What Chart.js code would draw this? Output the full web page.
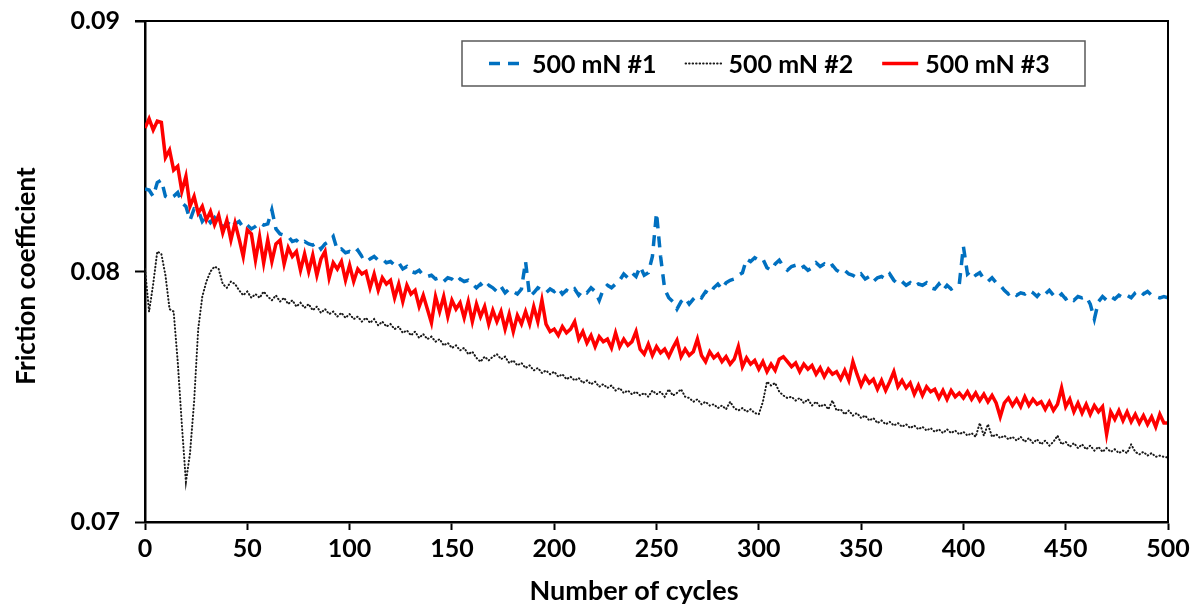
<!DOCTYPE html>
<html>
<head>
<meta charset="utf-8">
<title>Friction coefficient vs number of cycles</title>
<script src="https://cdn.jsdelivr.net/npm/chart.js@4.4.1/dist/chart.umd.min.js"></script>
<style>
  html, body { margin: 0; padding: 0; background: #fff; }
  #friction-chart { display: block; }
</style>
</head>
<body>
<canvas id="friction-chart" width="1201" height="613"></canvas>
<script>
// one sample every 2 cycles, 0..500
const cycleStep = 2;

const xTickValues = [0, 50, 100, 150, 200, 250, 300, 350, 400, 450, 500];
const yTickValues = [0.07, 0.08, 0.09];

const seriesLabels = ['500 mN #1', '500 mN #2', '500 mN #3'];
const xTitle = 'Number of cycles';
const yTitle = 'Friction coefficient';

const run1 = [
  0.08330, 0.08325, 0.08300, 0.08355, 0.08365, 0.08300, 0.08290, 0.08300, 0.08315, 0.08275,
  0.08260, 0.08205, 0.08250, 0.08245, 0.08200, 0.08220, 0.08195, 0.08215, 0.08190, 0.08180,
  0.08185, 0.08210, 0.08190, 0.08200, 0.08175, 0.08185, 0.08170, 0.08180, 0.08195, 0.08185,
  0.08190, 0.08246, 0.08170, 0.08150, 0.08145, 0.08140, 0.08120, 0.08125, 0.08110, 0.08120,
  0.08110, 0.08105, 0.08115, 0.08090, 0.08110, 0.08120, 0.08140, 0.08085, 0.08090, 0.08075,
  0.08080, 0.08070, 0.08085, 0.08060, 0.08070, 0.08050, 0.08060, 0.08045, 0.08050, 0.08035,
  0.08040, 0.08025, 0.08035, 0.08010, 0.08020, 0.08000, 0.07995, 0.08005, 0.07985, 0.07980,
  0.07985, 0.07970, 0.07975, 0.07960, 0.07975, 0.07970, 0.07955, 0.07970, 0.07960, 0.07965,
  0.07950, 0.07935, 0.07950, 0.07930, 0.07945, 0.07935, 0.07920, 0.07940, 0.07915, 0.07930,
  0.07920, 0.07910, 0.07930, 0.08040, 0.07900, 0.07915, 0.07935, 0.07925, 0.07915, 0.07930,
  0.07920, 0.07935, 0.07910, 0.07925, 0.07915, 0.07930, 0.07905, 0.07925, 0.07915, 0.07935,
  0.07920, 0.07885, 0.07930, 0.07945, 0.07935, 0.07950, 0.07965, 0.07990, 0.07975, 0.07995,
  0.07980, 0.08020, 0.07985, 0.07995, 0.08060, 0.08234, 0.08060, 0.07930, 0.07895, 0.07880,
  0.07850, 0.07880, 0.07895, 0.07870, 0.07890, 0.07905, 0.07895, 0.07920, 0.07910, 0.07935,
  0.07950, 0.07930, 0.07955, 0.07965, 0.07970, 0.07985, 0.07995, 0.08050, 0.08040, 0.08055,
  0.08045, 0.08050, 0.08015, 0.08005, 0.08030, 0.08045, 0.08020, 0.08005, 0.08020, 0.08025,
  0.08010, 0.08020, 0.08005, 0.08015, 0.08035, 0.08020, 0.08030, 0.08015, 0.08025, 0.08005,
  0.07995, 0.08005, 0.07990, 0.07985, 0.07975, 0.07990, 0.07970, 0.07980, 0.07960, 0.07975,
  0.07980, 0.07970, 0.07990, 0.07965, 0.07950, 0.07960, 0.07945, 0.07955, 0.07940, 0.07950,
  0.07945, 0.07955, 0.07935, 0.07930, 0.07950, 0.07925, 0.07945, 0.07930, 0.07940, 0.07950,
  0.08100, 0.07990, 0.08005, 0.07985, 0.07995, 0.07970, 0.07960, 0.07975, 0.07955, 0.07945,
  0.07925, 0.07910, 0.07920, 0.07905, 0.07915, 0.07910, 0.07925, 0.07915, 0.07900, 0.07920,
  0.07910, 0.07925, 0.07905, 0.07895, 0.07910, 0.07890, 0.07900, 0.07885, 0.07900, 0.07895,
  0.07900, 0.07870, 0.07810, 0.07880, 0.07900, 0.07885, 0.07900, 0.07890, 0.07905, 0.07895,
  0.07905, 0.07895, 0.07915, 0.07925, 0.07910, 0.07920, 0.07905, 0.07900, 0.07895, 0.07900,
  0.07895
];

const run2 = [
  0.08010, 0.07840, 0.07950, 0.08080, 0.08070, 0.07985, 0.07850, 0.07840, 0.07640, 0.07390,
  0.07160, 0.07275, 0.07480, 0.07770, 0.07900, 0.07960, 0.08000, 0.08020, 0.08010, 0.07950,
  0.07935, 0.07960, 0.07950, 0.07925, 0.07905, 0.07920, 0.07895, 0.07910, 0.07895, 0.07920,
  0.07900, 0.07885, 0.07905, 0.07880, 0.07895, 0.07870, 0.07885, 0.07860, 0.07875, 0.07855,
  0.07870, 0.07845, 0.07860, 0.07835, 0.07850, 0.07830, 0.07840, 0.07820, 0.07835, 0.07815,
  0.07830, 0.07810, 0.07820, 0.07800, 0.07815, 0.07795, 0.07810, 0.07785, 0.07800, 0.07780,
  0.07790, 0.07770, 0.07780, 0.07755, 0.07765, 0.07745, 0.07760, 0.07735, 0.07750, 0.07730,
  0.07740, 0.07720, 0.07730, 0.07705, 0.07715, 0.07695, 0.07705, 0.07685, 0.07695, 0.07670,
  0.07680, 0.07655, 0.07640, 0.07660, 0.07645, 0.07660, 0.07670, 0.07650, 0.07660, 0.07635,
  0.07645, 0.07625, 0.07635, 0.07615, 0.07625, 0.07605, 0.07615, 0.07595, 0.07605, 0.07590,
  0.07600, 0.07580, 0.07590, 0.07570, 0.07580, 0.07565, 0.07575, 0.07555, 0.07565, 0.07550,
  0.07560, 0.07540, 0.07550, 0.07535, 0.07545, 0.07525, 0.07535, 0.07515, 0.07525, 0.07510,
  0.07520, 0.07505, 0.07515, 0.07500, 0.07525, 0.07510, 0.07520, 0.07500, 0.07530, 0.07505,
  0.07515, 0.07530, 0.07500, 0.07495, 0.07480, 0.07490, 0.07470, 0.07480, 0.07465, 0.07470,
  0.07455, 0.07465, 0.07450, 0.07480, 0.07455, 0.07445, 0.07455, 0.07440, 0.07450, 0.07435,
  0.07430, 0.07480, 0.07560, 0.07545, 0.07555, 0.07520, 0.07505, 0.07495, 0.07500, 0.07485,
  0.07495, 0.07475, 0.07490, 0.07465, 0.07480, 0.07460, 0.07470, 0.07450, 0.07485, 0.07445,
  0.07450, 0.07430, 0.07445, 0.07425, 0.07435, 0.07415, 0.07425, 0.07405, 0.07415, 0.07395,
  0.07405, 0.07390, 0.07400, 0.07385, 0.07395, 0.07380, 0.07390, 0.07375, 0.07385, 0.07370,
  0.07380, 0.07365, 0.07375, 0.07360, 0.07370, 0.07355, 0.07370, 0.07355, 0.07365, 0.07350,
  0.07360, 0.07345, 0.07355, 0.07340, 0.07395, 0.07345, 0.07390, 0.07340, 0.07350, 0.07335,
  0.07345, 0.07330, 0.07340, 0.07325, 0.07340, 0.07320, 0.07335, 0.07315, 0.07330, 0.07310,
  0.07325, 0.07305, 0.07320, 0.07345, 0.07310, 0.07320, 0.07300, 0.07315, 0.07295, 0.07310,
  0.07290, 0.07305, 0.07285, 0.07300, 0.07280, 0.07295, 0.07280, 0.07290, 0.07275, 0.07285,
  0.07275, 0.07310, 0.07280, 0.07270, 0.07280, 0.07265, 0.07275, 0.07260, 0.07265, 0.07260,
  0.07258
];

const run3 = [
  0.08573, 0.08610, 0.08565, 0.08600, 0.08595, 0.08455, 0.08485, 0.08405, 0.08420, 0.08320,
  0.08380, 0.08260, 0.08300, 0.08233, 0.08260, 0.08205, 0.08240, 0.08186, 0.08225, 0.08154,
  0.08205, 0.08126, 0.08194, 0.08130, 0.08060, 0.08166, 0.08150, 0.08046, 0.08139, 0.08034,
  0.08126, 0.08040, 0.08110, 0.08125, 0.08030, 0.08095, 0.08060, 0.08080, 0.08005, 0.08070,
  0.08000, 0.08065, 0.07985, 0.08050, 0.08080, 0.07975, 0.08035, 0.08010, 0.08040, 0.07965,
  0.08025, 0.07960, 0.08010, 0.07990, 0.08000, 0.07935, 0.07990, 0.07925, 0.07975, 0.07950,
  0.07965, 0.07895, 0.07950, 0.07880, 0.07945, 0.07910, 0.07925, 0.07860, 0.07905, 0.07850,
  0.07795, 0.07900, 0.07840, 0.07900, 0.07820, 0.07885, 0.07850, 0.07875, 0.07815, 0.07880,
  0.07800, 0.07870, 0.07820, 0.07860, 0.07790, 0.07845, 0.07800, 0.07840, 0.07770, 0.07830,
  0.07760, 0.07825, 0.07790, 0.07840, 0.07790, 0.07860, 0.07800, 0.07886, 0.07790, 0.07760,
  0.07770, 0.07745, 0.07780, 0.07755, 0.07770, 0.07800, 0.07730, 0.07760, 0.07715, 0.07745,
  0.07700, 0.07740, 0.07720, 0.07730, 0.07695, 0.07755, 0.07700, 0.07730, 0.07705, 0.07720,
  0.07760, 0.07690, 0.07670, 0.07710, 0.07665, 0.07700, 0.07675, 0.07690, 0.07660, 0.07695,
  0.07725, 0.07660, 0.07690, 0.07665, 0.07680, 0.07730, 0.07665, 0.07640, 0.07680, 0.07655,
  0.07670, 0.07640, 0.07660, 0.07630, 0.07650, 0.07700, 0.07620, 0.07655, 0.07630, 0.07645,
  0.07610, 0.07640, 0.07600, 0.07630, 0.07605, 0.07650, 0.07660, 0.07640, 0.07620, 0.07635,
  0.07600, 0.07630, 0.07610, 0.07625, 0.07590, 0.07615, 0.07580, 0.07610, 0.07590, 0.07600,
  0.07570, 0.07605, 0.07565, 0.07640, 0.07590, 0.07545, 0.07580, 0.07555, 0.07570, 0.07530,
  0.07565, 0.07525, 0.07560, 0.07600, 0.07540, 0.07565, 0.07535, 0.07555, 0.07510, 0.07545,
  0.07505, 0.07540, 0.07520, 0.07530, 0.07495, 0.07525, 0.07490, 0.07525, 0.07500, 0.07515,
  0.07495, 0.07520, 0.07490, 0.07515, 0.07485, 0.07510, 0.07480, 0.07505, 0.07475, 0.07420,
  0.07475, 0.07495, 0.07465, 0.07490, 0.07460, 0.07500, 0.07465, 0.07490, 0.07470, 0.07480,
  0.07450, 0.07480, 0.07445, 0.07470, 0.07535, 0.07460, 0.07490, 0.07440, 0.07475, 0.07435,
  0.07470, 0.07430, 0.07465, 0.07440, 0.07460, 0.07350, 0.07440, 0.07410, 0.07445, 0.07405,
  0.07440, 0.07400, 0.07430, 0.07395, 0.07425, 0.07390, 0.07420, 0.07380, 0.07430, 0.07395,
  0.07395
];

const cycles = run1.map((_, i) => i * cycleStep);

function toPoints(values) {
  return values.map((y, i) => ({ x: cycles[i], y }));
}

const FONT_FAMILY = 'Lato, "Liberation Sans", sans-serif';

Chart.defaults.font.family = FONT_FAMILY;
Chart.defaults.font.size = 25;
Chart.defaults.font.weight = 'bold';
Chart.defaults.color = '#000';

// plot frame: top and right edges (left/bottom come from the axis borders)
const frameLines = {
  id: 'frameLines',
  afterDatasetsDraw(chart) {
    const { ctx, chartArea: a } = chart;
    ctx.save();
    ctx.strokeStyle = '#000';
    ctx.lineWidth = 2;
    ctx.beginPath();
    ctx.moveTo(a.left - 10, a.top);
    ctx.lineTo(a.right, a.top);
    ctx.lineTo(a.right, a.bottom);
    ctx.stroke();
    ctx.restore();
  }
};

// axis titles, placed by hand (the x title sits a little left of centre)
const axisTitles = {
  id: 'axisTitles',
  afterDraw(chart, args, opts) {
    const { ctx } = chart;
    ctx.save();
    ctx.fillStyle = '#000';
    ctx.textAlign = 'center';
    ctx.textBaseline = 'middle';
    ctx.font = `bold ${opts.xSize}px ${FONT_FAMILY}`;
    ctx.fillText(xTitle, opts.xCenter, opts.xMiddle);
    ctx.translate(opts.yCenter, opts.yMiddle);
    ctx.rotate(-Math.PI / 2);
    ctx.font = `bold ${opts.ySize}px ${FONT_FAMILY}`;
    ctx.fillText(yTitle, 0, 0);
    ctx.restore();
  }
};

// boxed legend inside the plot
const boxedLegend = {
  id: 'boxedLegend',
  afterDraw(chart, args, opts) {
    const { ctx } = chart;
    ctx.save();
    ctx.fillStyle = '#fff';
    ctx.fillRect(opts.left, opts.top, opts.right - opts.left, opts.bottom - opts.top);
    ctx.strokeStyle = '#595959';
    ctx.lineWidth = 1.5;
    ctx.strokeRect(opts.left, opts.top, opts.right - opts.left, opts.bottom - opts.top);

    const midY = (opts.top + opts.bottom) / 2;
    ctx.font = `bold ${opts.fontSize}px ${FONT_FAMILY}`;
    ctx.textBaseline = 'middle';
    let x = opts.startX;
    chart.data.datasets.forEach(ds => {
      ctx.save();
      ctx.strokeStyle = ds.borderColor;
      ctx.lineWidth = ds.borderWidth;
      ctx.lineCap = ds.borderCapStyle || 'butt';
      ctx.setLineDash(ds.borderDash || []);
      ctx.beginPath();
      ctx.moveTo(x, midY);
      ctx.lineTo(x + opts.sampleWidth, midY);
      ctx.stroke();
      ctx.restore();
      ctx.fillStyle = '#000';
      const textX = x + opts.sampleWidth + opts.sampleGap;
      ctx.fillText(ds.label, textX, midY + 1);
      x = textX + ctx.measureText(ds.label).width + opts.itemGap;
    });
    ctx.restore();
  }
};

const ctx = document.getElementById('friction-chart').getContext('2d');
new Chart(ctx, {
  type: 'line',
  data: {
    datasets: [
      {
        label: seriesLabels[0],
        data: toPoints(run1),
        borderColor: '#0070C0',
        borderWidth: 3.5,
        borderDash: [11, 8],
        order: 2
      },
      {
        label: seriesLabels[1],
        data: toPoints(run2),
        borderColor: '#1a1a1a',
        borderWidth: 2,
        borderDash: [0.5, 3],
        borderCapStyle: 'round',
        order: 1
      },
      {
        label: seriesLabels[2],
        data: toPoints(run3),
        borderColor: '#FF0000',
        borderWidth: 3.5,
        order: 0
      }
    ]
  },
  options: {
    responsive: false,
    animation: false,
    devicePixelRatio: 1,
    layout: { padding: { top: 21, right: 33, left: 0, bottom: 0 } },
    elements: {
      point: { radius: 0 },
      line: { tension: 0, fill: false }
    },
    plugins: {
      legend: { display: false },
      tooltip: { enabled: false },
      axisTitles: {
        xCenter: 634, xMiddle: 591, xSize: 27,
        yCenter: 27, yMiddle: 276, ySize: 26
      },
      boxedLegend: {
        left: 462, top: 41, right: 1085, bottom: 86,
        startX: 489, sampleWidth: 36, sampleGap: 7, itemGap: 29, fontSize: 25
      }
    },
    scales: {
      x: {
        type: 'linear',
        min: 0,
        max: 500,
        afterFit: scale => {
          scale.height = 91;
          scale.paddingLeft = 0;
          scale.paddingRight = 0;
        },
        afterBuildTicks: scale => { scale.ticks = xTickValues.map(value => ({ value })); },
        grid: {
          drawOnChartArea: false,
          drawTicks: true,
          tickLength: 8,
          tickColor: '#000',
          tickWidth: 2
        },
        border: { display: true, color: '#000', width: 2.5 },
        ticks: { padding: 4, maxRotation: 0, autoSkip: false }
      },
      y: {
        min: 0.07,
        max: 0.09,
        afterFit: scale => {
          scale.width = 145;
          scale.paddingTop = 0;
          scale.paddingBottom = 0;
        },
        afterBuildTicks: scale => { scale.ticks = yTickValues.map(value => ({ value })); },
        grid: {
          drawOnChartArea: false,
          drawTicks: true,
          tickLength: 10,
          tickColor: '#000',
          tickWidth: 2
        },
        border: { display: true, color: '#000', width: 2.5 },
        ticks: {
          padding: 15,
          autoSkip: false,
          callback: value => value.toFixed(2)
        }
      }
    }
  },
  plugins: [frameLines, axisTitles, boxedLegend]
});
</script>
</body>
</html>
